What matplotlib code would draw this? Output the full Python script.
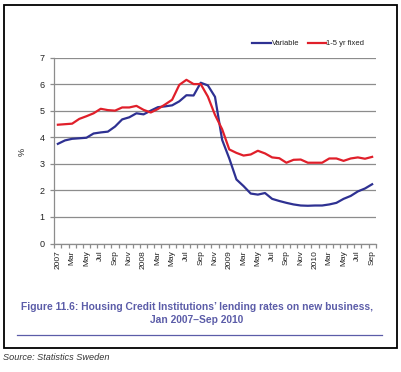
import matplotlib
matplotlib.use("Agg")
import matplotlib.pyplot as plt
from matplotlib.patches import Rectangle
from matplotlib.lines import Line2D

months = ["2007", "Feb", "Mar", "Apr", "May", "Jun", "Jul", "Aug", "Sep", "Oct", "Nov", "Dec",
          "2008", "Feb", "Mar", "Apr", "May", "Jun", "Jul", "Aug", "Sep", "Oct", "Nov", "Dec",
          "2009", "Feb", "Mar", "Apr", "May", "Jun", "Jul", "Aug", "Sep", "Oct", "Nov", "Dec",
          "2010", "Feb", "Mar", "Apr", "May", "Jun", "Jul", "Aug", "Sep"]
variable = [3.75, 3.88, 3.94, 3.96, 3.98, 4.14, 4.18, 4.21, 4.40, 4.67, 4.75, 4.90, 4.86, 5.00, 5.13,
            5.16, 5.20, 5.35, 5.58, 5.57, 6.05, 5.95, 5.52, 3.90, 3.20, 2.41, 2.16, 1.88, 1.84, 1.90,
            1.68, 1.60, 1.53, 1.47, 1.43, 1.42, 1.43, 1.43, 1.47, 1.53, 1.68, 1.79, 1.96, 2.07, 2.23]
fixed = [4.47, 4.49, 4.51, 4.69, 4.79, 4.90, 5.07, 5.02, 5.00, 5.12, 5.12, 5.18, 5.03, 4.93, 5.06,
         5.23, 5.41, 5.97, 6.16, 6.00, 6.00, 5.53, 4.84, 4.30, 3.54, 3.41, 3.31, 3.35, 3.49, 3.39,
         3.24, 3.21, 3.04, 3.15, 3.16, 3.04, 3.04, 3.04, 3.20, 3.20, 3.11, 3.20, 3.24, 3.19, 3.26]
series_names = ["Variable", "1-5 yr fixed"]
y_ticks = [0, 1, 2, 3, 4, 5, 6, 7]
caption = "Figure 11.6: Housing Credit Institutions\u2019 lending rates on new business,\nJan 2007\u2013Sep 2010"
source = "Source: Statistics Sweden"

FONT = ["Liberation Sans Narrow", "Liberation Sans", "DejaVu Sans"]
BLUE = "#2e3192"
RED = "#e01f2a"
PURPLE = "#5b5ca8"
GRID = "#8c8c8c"

W, H = 402, 372
fig = plt.figure(figsize=(W / 100, H / 100), dpi=100)
fig.patch.set_facecolor("white")

def fx(px):
    return px / W

def fy(py):
    return 1 - py / H

ax = fig.add_axes([fx(54.3), fy(243.5), fx(375.7) - fx(54.3), fy(57.5) - fy(243.5)])
x = list(range(len(months)))
ax.plot(x, variable, color=BLUE, lw=1.6, solid_joinstyle="round")
ax.plot(x, fixed, color=RED, lw=1.6, solid_joinstyle="round")
ax.set_xlim(-0.5, len(months) - 0.5)
ax.set_ylim(0, 7)
ax.set_yticks(y_ticks)
ax.set_yticklabels([str(v) for v in y_ticks], family=FONT, fontsize=6.5, color="#222222")
ax.yaxis.grid(True, color=GRID, lw=0.9)
ax.set_axisbelow(True)
for s in ["top", "right"]:
    ax.spines[s].set_visible(False)
for s in ["left", "bottom"]:
    ax.spines[s].set_color(GRID)
    ax.spines[s].set_linewidth(0.9)
ax.tick_params(axis="y", length=3, width=0.9, color=GRID, pad=4)
major = x[::2]
ax.set_xticks(major)
ax.set_xticklabels([months[i] for i in major], rotation=90, family=FONT, fontsize=6,
                   color="#222222", va="top", ha="center")
ax.set_xticks([i - 0.5 for i in range(len(months) + 1)], minor=True)
ax.tick_params(axis="x", which="major", length=0, pad=5)
ax.tick_params(axis="x", which="minor", length=3, width=0.9, color=GRID)
ax.set_ylabel("%", family=FONT, fontsize=6.5, color="#222222")
ax.yaxis.set_label_coords(-(54.3 - 27) / (375.7 - 54.3), (243.5 - 151.7) / (243.5 - 57.5))

# legend
legend_items = [(251.7, 271.0, BLUE, series_names[0]), (307.7, 326.0, RED, series_names[1])]
for x0, x1, c, name in legend_items:
    fig.add_artist(Line2D([fx(x0), fx(x1)], [fy(43.3), fy(43.3)], color=c, lw=1.6))
    fig.text(fx(x1 + 0.5), fy(43.3), name, family=FONT, fontsize=5.5, color="#222222",
             va="center", ha="left")

# border box
fig.add_artist(Rectangle((fx(4.5), fy(347.5)), fx(397) - fx(4.5), fy(5) - fy(347.5),
                         fill=False, edgecolor="black", lw=1.3))
# caption
fig.text(fx(197), fy(313.5), caption, family=FONT, fontsize=7.4, fontweight="bold",
         color=PURPLE, ha="center", va="center", linespacing=1.4)
fig.add_artist(Line2D([fx(17), fx(382)], [fy(335), fy(335)], color=PURPLE, lw=0.9))
# source
fig.text(fx(3), fy(358), source, family=FONT, fontsize=6.6, style="italic", color="#333333",
         ha="left", va="center")

fig.savefig("out.png", dpi=100, facecolor="white")
